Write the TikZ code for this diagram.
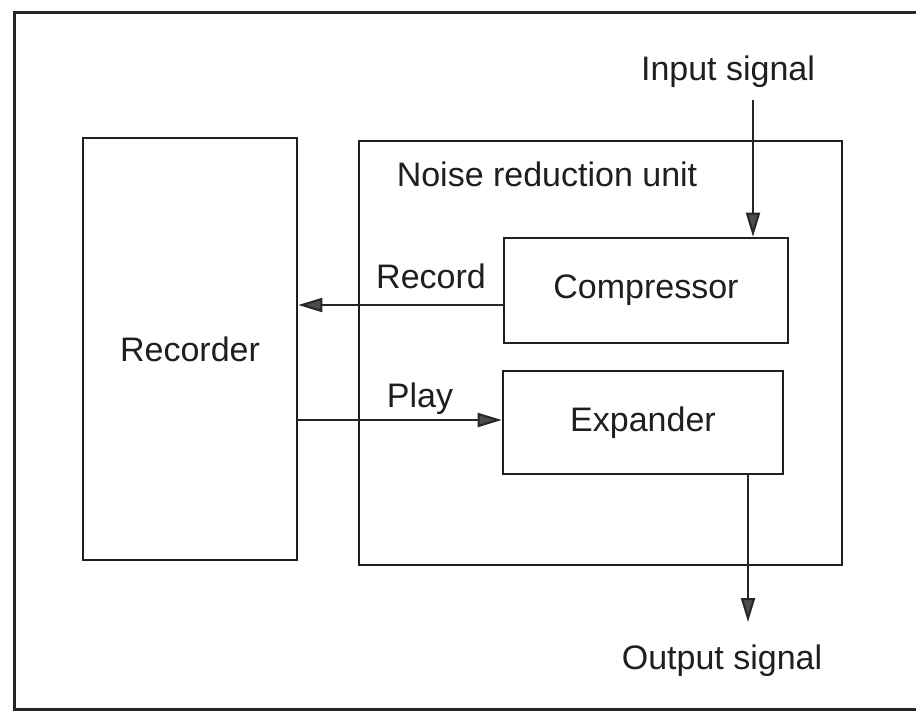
\documentclass[tikz,border=0pt]{standalone}
\usepackage{fontspec}
\setmainfont{Liberation Sans}
\usetikzlibrary{arrows.meta}
\begin{document}
\begin{tikzpicture}[x=1pt,y=-1pt,
  box/.style={draw=black!88,line width=2.6pt,rectangle,inner sep=0pt},
  lbl/.style={inner sep=0pt,text=black!88,font=\fontsize{34}{40}\selectfont},
  arr/.style={draw=black!85,line width=2pt,-{Triangle[length=24pt,width=14pt,fill=black!70]}}]
\useasboundingbox (0,0) rectangle (916,716);
\fill[white] (0,0) rectangle (916,716);
\draw[line width=3pt,black!85] (920,12) -- (14,12) -- (14,709) -- (920,709);
\node[box,minimum width=214pt,minimum height=422pt,lbl] (rec) at (190,349) {Recorder};
\node[box,minimum width=483pt,minimum height=424pt] (nru) at (600.5,353) {};
\node[lbl] (nrulab) at (547,174) {Noise reduction unit};
\node[box,minimum width=284pt,minimum height=105pt,lbl] (comp) at (646,290.5) {Compressor};
\node[box,minimum width=280pt,minimum height=103pt,lbl] (exp) at (643,422.5) {Expander};
\node[lbl] (inlab) at (728,72) {Input signal};
\node[lbl] (outlab) at (722,661) {Output signal};
\node[lbl] (reclab) at (431,276) {Record};
\node[lbl] (playlab) at (420,399) {Play};
\coordinate (inA) at (753,100);
\coordinate (rA) at (504,305);
\coordinate (pA) at (297,420);
\coordinate (oA) at (748,474);
\coordinate (oB) at (748,622);
\draw[arr] (inA) -- (inA |- comp.north);
\draw[arr] (rA) -- (rA -| rec.east);
\draw[arr] (pA) -- (pA -| exp.west);
\draw[arr] (oA) -- (oB);
\end{tikzpicture}
\end{document}
